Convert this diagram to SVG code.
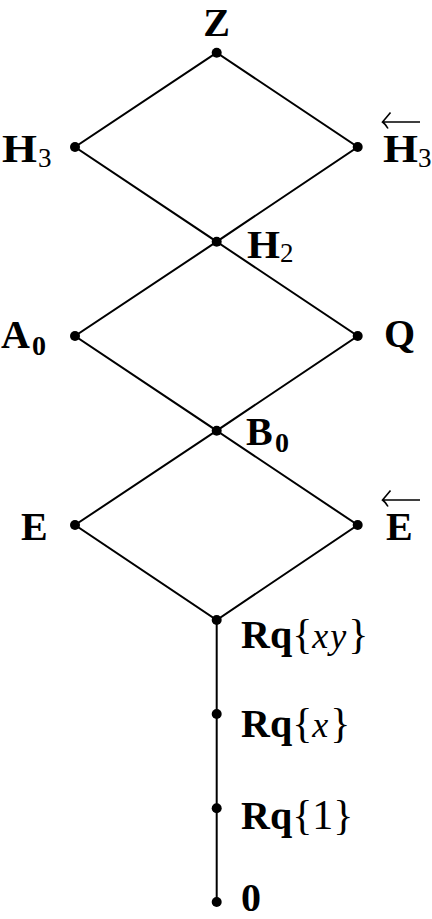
<svg xmlns="http://www.w3.org/2000/svg" width="432" height="919" viewBox="0 0 432 919">
<style>
.e{stroke:#000;stroke-width:2;fill:none}
.d{fill:#000}
.b{font-family:"Liberation Serif","Times New Roman",serif;font-weight:bold;font-size:40px;fill:#000}
.s{font-family:"Liberation Serif","Times New Roman",serif;font-size:27px;fill:#000}
.sb{font-family:"Liberation Serif","Times New Roman",serif;font-weight:bold;font-size:28px;fill:#000}
.r{font-family:"Liberation Serif","Times New Roman",serif;font-size:42px;fill:#000}
.i{font-family:"Liberation Serif","Times New Roman",serif;font-style:italic;font-size:36px;letter-spacing:2px;fill:#000}
.a{stroke:#000;stroke-width:1.6;fill:none}
</style>
<g id="connectors">
<path class="e" d="M216.7,52.7 L75,147 L216.7,241.7 L357.7,147 Z"/>
<path class="e" d="M216.7,241.7 L75,336 L216.7,430.7 L357.7,336 Z"/>
<path class="e" d="M216.7,430.7 L75,525 L216.7,620 L357.7,525 Z"/>
<path class="e" d="M216.7,620 V902"/>
</g>
<g id="Z"><circle class="d" cx="216.7" cy="52.7" r="5"/><text class="b" x="216.7" y="36" text-anchor="middle">Z</text></g>
<g id="H3"><circle class="d" cx="75" cy="147" r="5"/><text class="b" x="2" y="162" textLength="35" lengthAdjust="spacingAndGlyphs">H</text><text class="s" x="38" y="167">3</text></g>
<g id="H3rev"><circle class="d" cx="357.7" cy="147" r="5"/><text class="b" x="383" y="162" textLength="35" lengthAdjust="spacingAndGlyphs">H</text><text class="s" x="418" y="167">3</text><path class="a" d="M420,122 H383 M390.5,112.5 Q386,118 382.5,122 Q386,124.5 388,128.5"/></g>
<g id="H2"><circle class="d" cx="216.7" cy="241.7" r="5"/><text class="b" x="247" y="258" textLength="33" lengthAdjust="spacingAndGlyphs">H</text><text class="s" x="280" y="262">2</text></g>
<g id="A0"><circle class="d" cx="75" cy="336" r="5"/><text class="b" x="1" y="348">A</text><text class="sb" x="32" y="355">0</text></g>
<g id="Q"><circle class="d" cx="357.7" cy="336" r="5"/><text class="b" x="384" y="347">Q</text></g>
<g id="B0"><circle class="d" cx="216.7" cy="430.7" r="5"/><text class="b" x="246" y="445">B</text><text class="sb" x="275" y="451.5">0</text></g>
<g id="E"><circle class="d" cx="75" cy="525" r="5"/><text class="b" x="21" y="540">E</text></g>
<g id="Erev"><circle class="d" cx="357.7" cy="525" r="5"/><text class="b" x="386" y="540">E</text><path class="a" d="M420,500 H383 M390.5,490.5 Q386,496 382.5,500 Q386,502.5 388,506.5"/></g>
<g id="Rqxy"><circle class="d" cx="216.7" cy="620" r="5"/><text x="241" y="648"><tspan class="b">Rq</tspan><tspan class="r">{</tspan><tspan class="i">xy</tspan><tspan class="r">}</tspan></text></g>
<g id="Rqx"><circle class="d" cx="216.7" cy="714" r="5"/><text x="241" y="736.5"><tspan class="b">Rq</tspan><tspan class="r">{</tspan><tspan class="i">x</tspan><tspan class="r">}</tspan></text></g>
<g id="Rq1"><circle class="d" cx="216.7" cy="808.3" r="5"/><text x="241" y="828.5"><tspan class="b">Rq</tspan><tspan class="r">{1}</tspan></text></g>
<g id="zero"><circle class="d" cx="216.7" cy="902" r="5"/><text class="b" x="241" y="911">0</text></g>
</svg>
